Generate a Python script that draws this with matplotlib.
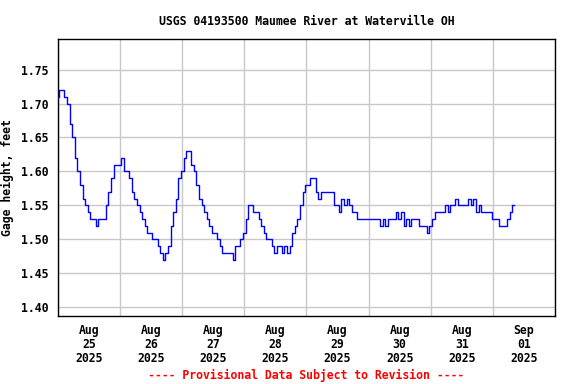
import numpy as np
import matplotlib
matplotlib.use("Agg")
import matplotlib.pyplot as plt

# hourly gage height readings (feet), starting Aug 25 2025 00:00
aug25 = [1.71, 1.72, 1.72, 1.71, 1.70, 1.67, 1.65, 1.62, 1.60, 1.58, 1.56, 1.55,
         1.54, 1.53, 1.53, 1.52, 1.53, 1.53, 1.53, 1.55, 1.57, 1.59, 1.61, 1.61]
aug26 = [1.61, 1.62, 1.60, 1.60, 1.59, 1.57, 1.56, 1.55, 1.54, 1.53, 1.52, 1.51,
         1.51, 1.50, 1.50, 1.49, 1.48, 1.47, 1.48, 1.49, 1.52, 1.54, 1.56, 1.59]
aug27 = [1.60, 1.62, 1.63, 1.63, 1.61, 1.60, 1.58, 1.56, 1.55, 1.54, 1.53, 1.52,
         1.51, 1.51, 1.50, 1.49, 1.48, 1.48, 1.48, 1.48, 1.47, 1.49, 1.49, 1.50]
aug28 = [1.51, 1.53, 1.55, 1.55, 1.54, 1.54, 1.53, 1.52, 1.51, 1.50, 1.50, 1.49,
         1.48, 1.49, 1.49, 1.48, 1.49, 1.48, 1.49, 1.51, 1.52, 1.53, 1.55, 1.57]
aug29 = [1.58, 1.58, 1.59, 1.59, 1.57, 1.56, 1.57, 1.57, 1.57, 1.57, 1.57, 1.55,
         1.55, 1.54, 1.56, 1.55, 1.56, 1.55, 1.54, 1.54, 1.53, 1.53, 1.53, 1.53]
aug30 = [1.53, 1.53, 1.53, 1.53, 1.53, 1.52, 1.53, 1.52, 1.53, 1.53, 1.53, 1.54,
         1.53, 1.54, 1.52, 1.53, 1.52, 1.53, 1.53, 1.53, 1.52, 1.52, 1.52, 1.51]
aug31 = [1.52, 1.53, 1.54, 1.54, 1.54, 1.54, 1.55, 1.54, 1.55, 1.55, 1.56, 1.55,
         1.55, 1.55, 1.55, 1.56, 1.55, 1.56, 1.54, 1.55, 1.54, 1.54, 1.54, 1.54]
sep01 = [1.53, 1.53, 1.53, 1.52, 1.52, 1.52, 1.53, 1.54, 1.55]

day_labels = ["Aug\n25\n2025", "Aug\n26\n2025", "Aug\n27\n2025", "Aug\n28\n2025",
              "Aug\n29\n2025", "Aug\n30\n2025", "Aug\n31\n2025", "Sep\n01\n2025"]
yticks = [1.40, 1.45, 1.50, 1.55, 1.60, 1.65, 1.70, 1.75]

gage = aug25 + aug26 + aug27 + aug28 + aug29 + aug30 + aug31 + sep01
hours = np.arange(len(gage))

plt.rcParams['font.family'] = "DejaVu Sans Mono"
plt.rcParams['font.weight'] = 'bold'
fs = 8.3

fig = plt.figure(figsize=(5.76, 3.84), dpi=100)
ax = fig.add_axes([0.1007, 0.177, 0.8628, 0.7214])

ax.plot(hours, gage, color="#0000ff", linewidth=1.0, drawstyle="steps-mid", zorder=3)

ax.set_xlim(0, 24 * 8)
ax.set_ylim(1.387, 1.795)

# gridlines at midnight, labels at noon
ax.set_xticks(np.arange(0, 24 * 8 + 1, 24))
ax.set_xticklabels([])
ax.set_xticks(np.arange(12, 24 * 8, 24), minor=True)
ax.set_xticklabels(day_labels, minor=True, fontsize=fs, fontweight='bold',
                   linespacing=1.1)
ax.set_yticks(yticks)
ax.set_yticklabels(["%.2f" % v for v in yticks], fontsize=fs, fontweight='bold')
ax.tick_params(axis='both', which='both', length=0)
ax.tick_params(axis='x', which='minor', pad=6)
ax.tick_params(axis='y', pad=7)

ax.grid(True, which='major', color="#c8c8c8", linewidth=1.0, zorder=1)
for s in ax.spines.values():
    s.set_linewidth(1.0)
    s.set_color("black")

ax.set_ylabel("Gage height, feet", fontsize=fs, fontweight='bold')
ax.yaxis.set_label_coords(-0.088, 0.5)
ax.set_title("USGS 04193500 Maumee River at Waterville OH", fontsize=fs,
             fontweight='bold', pad=10)

fig.text(0.532, 0.023, "---- Provisional Data Subject to Revision ----",
         color="red", fontsize=fs, fontweight='bold', ha='center', va='center')

fig.savefig("out.png", dpi=100)
